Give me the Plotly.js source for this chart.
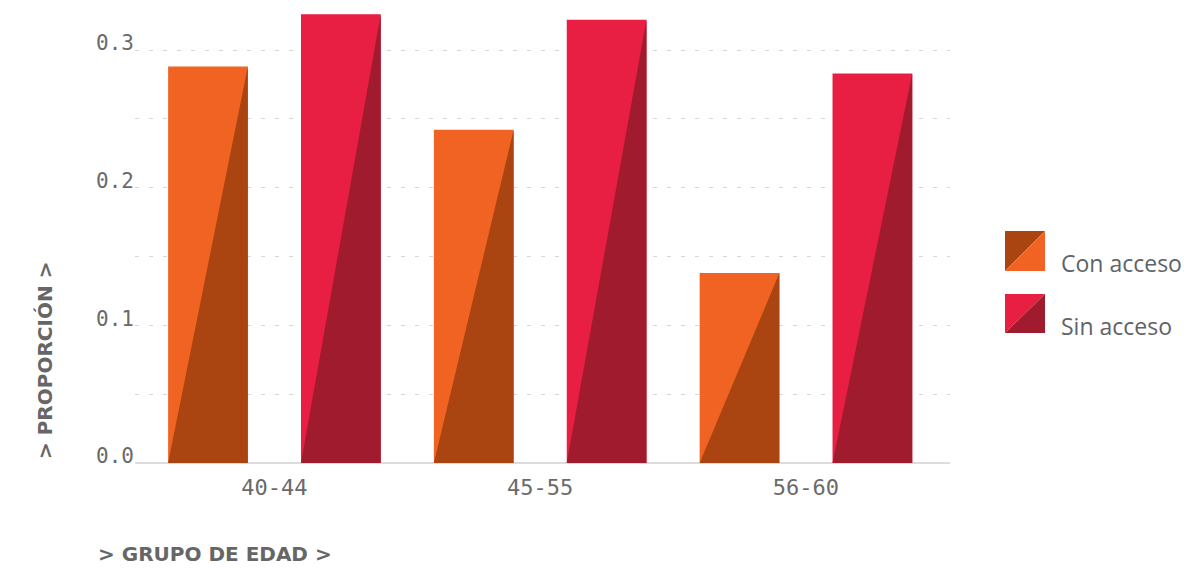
<!DOCTYPE html>
<html>
<head>
<meta charset="utf-8">
<script src="https://cdn.plot.ly/plotly-3.0.1.min.js"></script>
<style>html,body{margin:0;padding:0;background:#fff;}#chart{width:1202px;height:568px;}</style>
</head>
<body>
<div id="chart"></div>
<script>
const categories = ['40-44', '45-55', '56-60'];
const conAcceso = [0.288, 0.242, 0.138];
const sinAcceso = [0.326, 0.322, 0.283];
const yTickVals = [0, 0.1, 0.2, 0.3];
const yTickText = ['0.0', '0.1', '0.2', '0.3'];
const seriesNames = ['Con acceso', 'Sin acceso'];

const colors = {
  conLight: '#F16322', conDark: '#AA4512',
  sinLight: '#E81E43', sinDark: '#A11B2E'
};

const bargroupgap = 0.4;
const halfW = (1 / 2) * (1 - bargroupgap) / 2;   // half bar width in category units
const offsets = [-0.25, 0.25];                   // group offsets

const xIdx = categories.map((_, i) => i);

function triangles(values, off) {
  const xs = [], ys = [];
  values.forEach((v, i) => {
    const c = i + off;
    xs.push(c - halfW, c + halfW, c + halfW, c - halfW, null);
    ys.push(0, 0, v, 0, null);
  });
  return { x: xs, y: ys };
}

const tCon = triangles(conAcceso, offsets[0]);
const tSin = triangles(sinAcceso, offsets[1]);

const traces = [
  { type: 'bar', x: xIdx, y: conAcceso, name: seriesNames[0], marker: { color: colors.conLight, line: { width: 0 } }, hoverinfo: 'y' },
  { type: 'bar', x: xIdx, y: sinAcceso, name: seriesNames[1], marker: { color: colors.sinLight, line: { width: 0 } }, hoverinfo: 'y' },
  { type: 'scatter', mode: 'lines', x: tCon.x, y: tCon.y, fill: 'toself', fillcolor: colors.conDark, line: { width: 0, color: colors.conDark }, hoverinfo: 'skip', showlegend: false },
  { type: 'scatter', mode: 'lines', x: tSin.x, y: tSin.y, fill: 'toself', fillcolor: colors.sinDark, line: { width: 0, color: colors.sinDark }, hoverinfo: 'skip', showlegend: false }
];

// legend icons (paper coords)
const L = 1.0675, R = 1.1166;
const icons = [
  { top: 0.5066, bot: 0.4192, ul: colors.conDark, lr: colors.conLight },
  { top: 0.369, bot: 0.2838, ul: colors.sinLight, lr: colors.sinDark }
];
const shapes = [];
icons.forEach(ic => {
  shapes.push({ type: 'path', xref: 'paper', yref: 'paper', path: `M${L},${ic.top} L${R},${ic.top} L${L},${ic.bot} Z`, fillcolor: ic.ul, line: { width: 0 } });
  shapes.push({ type: 'path', xref: 'paper', yref: 'paper', path: `M${R},${ic.top} L${R},${ic.bot} L${L},${ic.bot} Z`, fillcolor: ic.lr, line: { width: 0 } });
});

const gray = '#666666';
const titleFont = { family: '"DejaVu Sans", sans-serif', size: 20, color: gray, weight: 'bold' };
const legFont = { family: '"Open Sans", sans-serif', size: 23, color: '#5f6368' };

const annotations = [
  { text: seriesNames[0], xref: 'paper', yref: 'paper', x: 1.1337, y: 0.4367, xanchor: 'left', yanchor: 'middle', showarrow: false, font: legFont },
  { text: seriesNames[1], xref: 'paper', yref: 'paper', x: 1.1337, y: 0.299, xanchor: 'left', yanchor: 'middle', showarrow: false, font: legFont },
  { text: '<b>&gt; GRUPO DE EDAD &gt;</b>', xref: 'paper', yref: 'paper', x: -0.0466, y: -0.2271, xanchor: 'left', yanchor: 'bottom', borderpad: 0, showarrow: false, font: titleFont },
  { text: '<b>&gt; PROPORCIÓN &gt;</b>', xref: 'paper', yref: 'paper', x: -0.1104, y: 0.2227, xanchor: 'center', yanchor: 'middle', textangle: -90, showarrow: false, font: titleFont }
];

const layout = {
  width: 1202, height: 568,
  margin: { l: 135, r: 252, t: 5, b: 105 },
  paper_bgcolor: '#ffffff', plot_bgcolor: '#ffffff',
  barmode: 'group', bargap: 0, bargroupgap: bargroupgap,
  showlegend: false,
  xaxis: {
    type: 'linear', range: [-0.5246, 2.542],
    tickvals: xIdx, ticktext: categories,
    showgrid: false, zeroline: false, showline: false, ticks: '',
    tickfont: { family: '"DejaVu Sans Mono", monospace', size: 22, color: '#6a6a6a' },
    ticklabelstandoff: 9
  },
  yaxis: {
    range: [0, 0.3327],
    tickvals: yTickVals, ticktext: yTickText,
    showgrid: true, gridcolor: '#d6d6dc', gridwidth: 1, griddash: '4px,10px',
    minor: { dtick: 0.05, tick0: 0, showgrid: true, gridcolor: '#d6d6dc', gridwidth: 1, griddash: '4px,10px', ticks: '' },
    zeroline: true, zerolinecolor: '#dcdce0', zerolinewidth: 2,
    showline: false, ticks: '',
    tickfont: { family: '"DejaVu Sans Mono", monospace', size: 21, color: '#6a6a6a' },
    ticklabelshift: -7
  },
  shapes: shapes,
  annotations: annotations,
  font: { family: '"Open Sans", sans-serif' }
};

Plotly.newPlot('chart', traces, layout, { displayModeBar: false, staticPlot: true });
</script>
</body>
</html>
